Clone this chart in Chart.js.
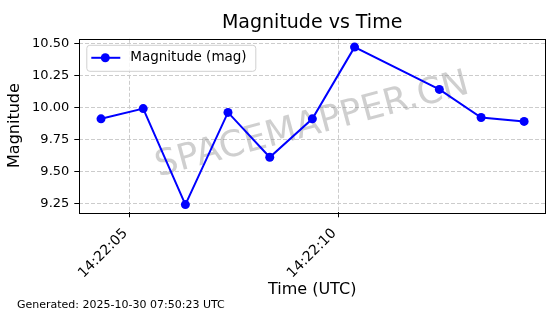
<!DOCTYPE html>
<html>
<head>
<meta charset="utf-8">
<script src="https://cdn.jsdelivr.net/npm/chart.js@4"></script>
<style>
    html, body { margin: 0; padding: 0; background: #fff; }
</style>
</head>
<body>
<canvas id="myChart" width="560" height="314"></canvas>
<script>
// Dados (segundos depois de 14:22:00 UTC)
const seconds = [4.32, 5.33, 6.34, 7.36, 8.36, 9.38, 10.39, 12.42, 13.42, 14.45];
const magnitudes = [9.91, 9.99, 9.24, 9.96, 9.61, 9.91, 10.47, 10.14, 9.92, 9.89];
const xTicks = [5, 10];
const yTicks = [9.25, 9.50, 9.75, 10.00, 10.25, 10.50];
const seriesLabel = 'Magnitude (mag)';

const FONT = 'DejaVu Sans';

function timeLabel(s) {
    return '14:22:' + String(Math.round(s)).padStart(2, '0');
}

// Moldura, marca d'agua, legenda e rodape
const extras = {
    id: 'extras',
    beforeDatasetsDraw(chart) {
        const ctx = chart.ctx;
        const a = chart.chartArea;
        ctx.save();
        ctx.translate((a.left + a.right) / 2, (a.top + a.bottom) / 2);
        ctx.rotate(-15 * Math.PI / 180);
        ctx.font = '36px "' + FONT + '"';
        ctx.fillStyle = 'rgba(128,128,128,0.38)';
        ctx.textAlign = 'center';
        ctx.textBaseline = 'middle';
        ctx.fillText('SPACEMAPPER.CN', 0, 0);
        ctx.restore();
    },
    afterDatasetsDraw(chart) {
        const ctx = chart.ctx;
        const a = chart.chartArea;
        ctx.save();
        ctx.strokeStyle = '#000';
        ctx.lineWidth = 1;
        ctx.strokeRect(Math.round(a.left) + 0.5, Math.round(a.top) + 0.5,
            Math.round(a.right - a.left), Math.round(a.bottom - a.top));

        // legenda
        const lx = a.left + 7, ly = a.top + 6, lw = 169, lh = 26;
        ctx.beginPath();
        ctx.roundRect(lx + 0.5, ly + 0.5, lw, lh, 3);
        ctx.fillStyle = 'rgba(255,255,255,0.8)';
        ctx.fill();
        ctx.strokeStyle = '#d0d0d0';
        ctx.stroke();
        const cy = ly + lh / 2;
        ctx.beginPath();
        ctx.moveTo(lx + 5, cy);
        ctx.lineTo(lx + 34, cy);
        ctx.strokeStyle = '#0000ff';
        ctx.lineWidth = 2;
        ctx.stroke();
        ctx.beginPath();
        ctx.arc(lx + 19, cy, 4.5, 0, Math.PI * 2);
        ctx.fillStyle = '#0000ff';
        ctx.fill();
        ctx.font = '13.5px "' + FONT + '"';
        ctx.fillStyle = '#000';
        ctx.textAlign = 'left';
        ctx.textBaseline = 'middle';
        ctx.fillText(chart.data.datasets[0].label, lx + 44, cy);

        // rodape
        ctx.font = '11px "' + FONT + '"';
        ctx.textBaseline = 'middle';
        ctx.fillText('Generated: 2025-10-30 07:50:23 UTC', 17, 305);
        ctx.restore();
    }
};

window.onload = function() {
    const ctx = document.getElementById('myChart').getContext('2d');
    new Chart(ctx, {
        type: 'line',
        data: {
            datasets: [{
                label: seriesLabel,
                data: seconds.map((s, i) => ({ x: s, y: magnitudes[i] })),
                borderColor: '#0000ff',
                backgroundColor: '#0000ff',
                borderWidth: 2,
                pointRadius: 4.5,
                pointHoverRadius: 4.5,
                pointBorderWidth: 0,
                tension: 0,
                fill: false
            }]
        },
        options: {
            responsive: false,
            animation: false,
            devicePixelRatio: 1,
            layout: {
                autoPadding: false,
                padding: { left: 0, right: 15, top: 0, bottom: 0 }
            },
            plugins: {
                legend: { display: false },
                tooltip: { enabled: false },
                title: {
                    display: true,
                    fullSize: false,
                    text: 'Magnitude vs Time',
                    color: '#000',
                    font: { family: FONT, size: 19, weight: 'normal' },
                    padding: { top: 12, bottom: 4 }
                }
            },
            scales: {
                x: {
                    type: 'linear',
                    min: 3.80,
                    max: 14.95,
                    afterBuildTicks: s => { s.ticks = xTicks.map(v => ({ value: v })); },
                    afterFit: s => { s.height = 101.7; },
                    ticks: {
                        color: '#000',
                        font: { family: FONT, size: 14 },
                        minRotation: 45,
                        maxRotation: 45,
                        padding: 8,
                        labelOffset: -4,
                        callback: v => timeLabel(v)
                    },
                    grid: {
                        color: '#cccccc',
                        tickColor: '#000',
                        tickLength: 5,
                        tickBorderDash: [5, 0]
                    },
                    border: { display: false, dash: [4, 2] },
                    title: {
                        display: true,
                        text: 'Time (UTC)',
                        color: '#000',
                        font: { family: FONT, size: 16 },
                        padding: { top: 0, bottom: 15 }
                    }
                },
                y: {
                    min: 9.18,
                    max: 10.535,
                    afterBuildTicks: s => { s.ticks = yTicks.map(v => ({ value: v })); },
                    afterFit: s => { s.width = 79.3; },
                    ticks: {
                        color: '#000',
                        font: { family: FONT, size: 13 },
                        padding: 5,
                        callback: v => v.toFixed(2)
                    },
                    grid: {
                        color: '#cccccc',
                        tickColor: '#000',
                        tickLength: 5,
                        tickBorderDash: [5, 0]
                    },
                    border: { display: false, dash: [4, 2] },
                    title: {
                        display: true,
                        text: 'Magnitude',
                        color: '#000',
                        font: { family: FONT, size: 16 },
                        padding: { top: 5, bottom: 0 }
                    }
                }
            }
        },
        plugins: [extras]
    });
};
</script>
</body>
</html>
